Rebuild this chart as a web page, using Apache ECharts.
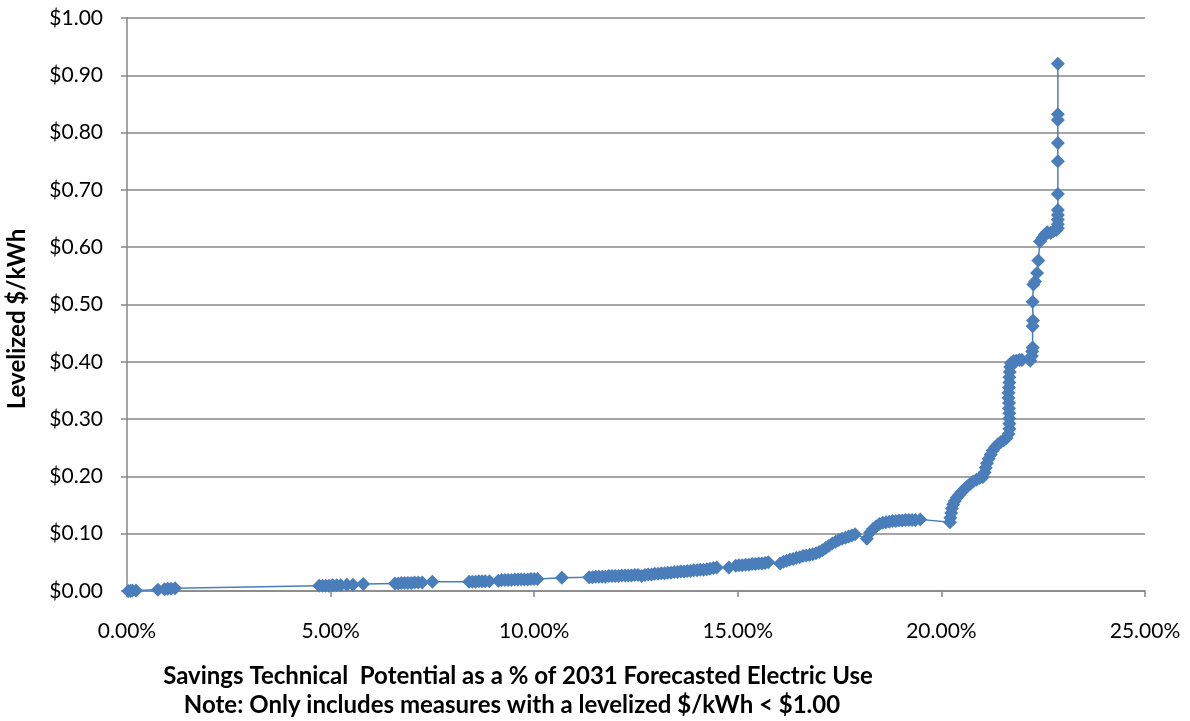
<!DOCTYPE html>
<html>
<head>
<meta charset="utf-8">
<script src="https://cdn.jsdelivr.net/npm/echarts@6/dist/echarts.min.js"></script>
<style>
  html, body { margin: 0; padding: 0; background: #ffffff; }
  #chart { width: 1190px; height: 721px; }
</style>
</head>
<body>
<div id="chart"></div>
<script>
// Cumulative savings technical potential (% of 2031 forecasted electric use)
const savingsPct = [
  0.03, 0.08, 0.13, 0.22, 0.76, 0.92, 1.00, 1.08, 1.18,
  4.72, 4.80, 4.88, 4.96, 5.05, 5.15, 5.25, 5.40, 5.55, 5.80,
  6.58, 6.66, 6.74, 6.82, 6.90, 6.98, 7.06, 7.15, 7.25, 7.50,
  8.40, 8.48, 8.56, 8.64, 8.72, 8.80, 8.90,
  9.12, 9.20, 9.28, 9.36, 9.44, 9.52, 9.60, 9.68, 9.76, 9.84, 9.92, 10.00, 10.08, 10.68,
  11.35, 11.43, 11.51, 11.59, 11.67, 11.75, 11.83, 11.91, 11.99, 12.07,
  12.15, 12.23, 12.31, 12.39, 12.47, 12.55, 12.64,
  12.72, 12.80, 12.88, 12.96, 13.04, 13.12, 13.20, 13.28, 13.36, 13.44,
  13.52, 13.60, 13.68, 13.76, 13.84, 13.92, 14.00, 14.08, 14.16, 14.24,
  14.32, 14.40, 14.48, 14.78,
  14.95, 15.03, 15.11, 15.19, 15.27, 15.35, 15.43, 15.51, 15.59, 15.67, 15.75,
  16.04,
  16.12, 16.20, 16.28, 16.36, 16.44, 16.52, 16.60, 16.68, 16.76, 16.84,
  16.92, 17.00, 17.08, 17.16, 17.24, 17.32, 17.40, 17.48, 17.56, 17.64,
  17.72, 17.80, 17.88, 18.17,
  18.25, 18.32, 18.40, 18.48, 18.56, 18.64, 18.72, 18.80, 18.88, 18.96,
  19.04, 19.12, 19.20, 19.28, 19.36, 19.48,
  20.21, 20.22, 20.24, 20.26, 20.29, 20.33, 20.38, 20.44, 20.50, 20.57,
  20.64, 20.71, 20.78, 20.86, 20.94, 21.02,
  21.06, 21.09, 21.12, 21.16, 21.21, 21.26, 21.32, 21.39, 21.46, 21.53, 21.60,
  21.65, 21.67, 21.67, 21.67, 21.67, 21.66, 21.66, 21.65, 21.65, 21.66,
  21.67, 21.67, 21.68, 21.69, 21.71, 21.77, 21.84, 21.91, 21.98,
  22.18, 22.22, 22.23, 22.24, 22.24, 22.25, 22.24, 22.26, 22.30, 22.35,
  22.38, 22.42, 22.48, 22.54, 22.60, 22.68, 22.75, 22.82,
  22.86, 22.86, 22.86, 22.86, 22.86, 22.86, 22.86, 22.86, 22.86, 22.86, 22.86
];

// Levelized cost of each measure ($/kWh), in the same order
const levelizedCost = [
  0.000, 0.000, 0.001, 0.001, 0.002, 0.003, 0.004, 0.004, 0.005,
  0.009, 0.009, 0.009, 0.009, 0.010, 0.010, 0.010, 0.011, 0.011, 0.012,
  0.013, 0.013, 0.014, 0.014, 0.014, 0.014, 0.015, 0.015, 0.015, 0.016,
  0.016, 0.016, 0.016, 0.017, 0.017, 0.017, 0.017,
  0.018, 0.019, 0.019, 0.019, 0.019, 0.020, 0.020, 0.020, 0.020, 0.020, 0.021, 0.021, 0.021, 0.023,
  0.024, 0.024, 0.025, 0.025, 0.025, 0.025, 0.026, 0.026, 0.026, 0.026,
  0.027, 0.027, 0.027, 0.027, 0.028, 0.028, 0.026,
  0.028, 0.029, 0.029, 0.030, 0.030, 0.031, 0.031, 0.032, 0.032, 0.033,
  0.033, 0.034, 0.034, 0.035, 0.035, 0.036, 0.036, 0.037, 0.037, 0.038,
  0.039, 0.040, 0.041, 0.041,
  0.044, 0.045, 0.045, 0.046, 0.046, 0.047, 0.047, 0.048, 0.048, 0.049, 0.050,
  0.048,
  0.051, 0.053, 0.055, 0.056, 0.058, 0.059, 0.061, 0.062, 0.063, 0.064,
  0.066, 0.068, 0.071, 0.075, 0.079, 0.083, 0.086, 0.089, 0.091, 0.093,
  0.095, 0.097, 0.099, 0.091,
  0.102, 0.108, 0.113, 0.117, 0.119, 0.120, 0.121, 0.122, 0.122, 0.123,
  0.123, 0.124, 0.124, 0.124, 0.124, 0.125,
  0.120, 0.128, 0.136, 0.144, 0.151, 0.157, 0.163, 0.168, 0.173, 0.178,
  0.183, 0.187, 0.191, 0.194, 0.197, 0.199,
  0.207, 0.215, 0.223, 0.231, 0.238, 0.245, 0.251, 0.256, 0.260, 0.263, 0.267,
  0.274, 0.283, 0.292, 0.301, 0.310, 0.319, 0.328, 0.337, 0.346, 0.355,
  0.364, 0.373, 0.382, 0.391, 0.398, 0.401, 0.402, 0.403, 0.403,
  0.402, 0.410, 0.418, 0.425, 0.462, 0.472, 0.505, 0.535, 0.540, 0.555,
  0.577, 0.610, 0.616, 0.622, 0.626, 0.625, 0.628, 0.630,
  0.633, 0.640, 0.648, 0.656, 0.665, 0.693, 0.750, 0.782, 0.822, 0.832, 0.920
];

// Axis ranges and tick spacing
const xTicks = { min: 0, max: 25, interval: 5 };
const yTicks = { min: 0, max: 1, interval: 0.1 };

const xTitle = 'Savings Technical  Potential as a % of 2031 Forecasted Electric Use';
const xNote = 'Note: Only includes measures with a levelized $/kWh < $1.00';
const yTitle = 'Levelized $/kWh';

const points = savingsPct.map((x, i) => [x, levelizedCost[i]]);

const chart = echarts.init(document.getElementById('chart'), null, { renderer: 'canvas' });

const axisColor = '#878787';
const markColor = '#4a7ebb';
const labelFont = { fontFamily: 'Lato', fontSize: 21, color: '#000000' };
const titleFont = { fontFamily: 'Lato', fontWeight: 'bold', fontSize: 24, fill: '#000000',
                    textAlign: 'center', textVerticalAlign: 'middle' };

chart.setOption({
  animation: false,
  backgroundColor: '#ffffff',
  grid: { left: 127, right: 45, top: 18, bottom: 130, containLabel: false },
  xAxis: {
    type: 'value',
    min: xTicks.min, max: xTicks.max, interval: xTicks.interval,
    axisLine: { show: true, lineStyle: { color: axisColor, width: 1.5 } },
    axisTick: { show: true, length: 6, lineStyle: { color: axisColor, width: 1.5 } },
    splitLine: { show: false },
    axisLabel: Object.assign({ margin: 30, formatter: v => v.toFixed(2) + '%' }, labelFont)
  },
  yAxis: {
    type: 'value',
    min: yTicks.min, max: yTicks.max, interval: yTicks.interval,
    axisLine: { show: true, lineStyle: { color: axisColor, width: 1.5 } },
    axisTick: { show: true, length: 6, lineStyle: { color: axisColor, width: 1.5 } },
    splitLine: { show: true, lineStyle: { color: axisColor, width: 1.5 } },
    axisLabel: Object.assign({ margin: 24, formatter: v => '$' + v.toFixed(2) }, labelFont)
  },
  series: [{
    type: 'line',
    data: points,
    symbol: 'diamond',
    symbolSize: 14,
    showAllSymbol: true,
    lineStyle: { color: markColor, width: 1.5 },
    itemStyle: { color: markColor }
  }],
  graphic: [
    {
      type: 'text', x: 17, y: 319, rotation: Math.PI / 2,
      style: Object.assign({ text: yTitle }, titleFont)
    },
    {
      type: 'text', x: 518, y: 676,
      style: Object.assign({ text: xTitle }, titleFont)
    },
    {
      type: 'text', x: 512, y: 705,
      style: Object.assign({ text: xNote }, titleFont)
    }
  ]
});
</script>
</body>
</html>
